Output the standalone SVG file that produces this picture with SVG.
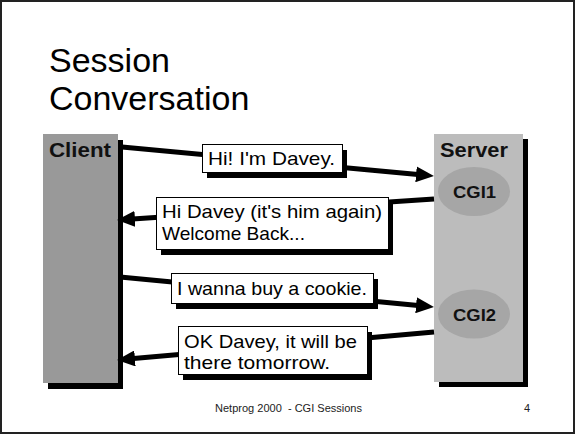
<svg xmlns="http://www.w3.org/2000/svg" width="576" height="436" viewBox="0 0 576 436">
  <defs>
    <marker id="ah" viewBox="0 0 18 16" refX="10" refY="8" markerWidth="18" markerHeight="16" markerUnits="userSpaceOnUse" orient="auto">
      <path d="M0,0 L18,8 L0,16 z" fill="#000"/>
    </marker>
    <style>
      .title { font-family: "Liberation Sans", Arial, sans-serif; font-size: 34px; fill: #000; }
      .lbl { font-family: "Liberation Sans", Arial, sans-serif; font-weight: bold; fill: #111; }
      .msg { font-family: "Liberation Sans", Arial, sans-serif; font-size: 19px; fill: #000; }
      .foot { font-family: "Liberation Sans", Arial, sans-serif; font-size: 11px; fill: #222; white-space: pre; }
      .box { fill: #fff; stroke: #000; stroke-width: 1; }
      .shadow { fill: #000; }
      .conn { stroke: #000; stroke-width: 5; fill: none; marker-end: url(#ah); }
    </style>
  </defs>

  <rect x="1" y="1" width="573" height="432" fill="#fff" stroke="#222" stroke-width="2"/>

  <text class="title" x="49" y="72">Session</text>
  <text class="title" x="49" y="110">Conversation</text>

  <g id="client">
    <rect class="shadow" x="48" y="140" width="75" height="249"/>
    <rect x="43" y="134" width="75" height="249" fill="#999"/>
    <text class="lbl" x="49" y="157" font-size="20" textLength="62" lengthAdjust="spacingAndGlyphs">Client</text>
  </g>

  <g id="server">
    <rect class="shadow" x="439" y="139" width="89" height="248"/>
    <rect x="434" y="134" width="89" height="248" fill="#bcbcbc"/>
    <text class="lbl" x="440" y="157" font-size="20" textLength="68" lengthAdjust="spacingAndGlyphs">Server</text>
  </g>

  <g id="cgi1">
    <ellipse cx="474" cy="191.5" rx="36" ry="24.5" fill="#a6a6a6"/>
    <text class="lbl" x="474.5" y="198" font-size="16" text-anchor="middle" textLength="43" lengthAdjust="spacingAndGlyphs">CGI1</text>
  </g>

  <g id="cgi2">
    <ellipse cx="474" cy="314" rx="36" ry="24.5" fill="#a6a6a6"/>
    <text class="lbl" x="474.5" y="321" font-size="16" text-anchor="middle" textLength="43" lengthAdjust="spacingAndGlyphs">CGI2</text>
  </g>

  <g id="connectors">
    <line class="conn" x1="122" y1="147" x2="426" y2="175.3"/>
    <line class="conn" x1="434" y1="199" x2="125" y2="219.5"/>
    <line class="conn" x1="120" y1="277" x2="426" y2="306.2"/>
    <line class="conn" x1="434" y1="332" x2="125" y2="359.3"/>
  </g>

  <g id="msg1">
    <rect class="shadow" x="207" y="150" width="140" height="28"/>
    <rect class="box" x="202.5" y="144.5" width="140" height="28"/>
    <text class="msg" x="208" y="165" textLength="127" lengthAdjust="spacingAndGlyphs">Hi! I'm Davey.</text>
  </g>

  <g id="msg2">
    <rect class="shadow" x="161" y="203" width="232" height="52"/>
    <rect class="box" x="156.5" y="197.5" width="232" height="52"/>
    <text class="msg" x="162" y="218" textLength="220" lengthAdjust="spacingAndGlyphs">Hi Davey (it's him again)</text>
    <text class="msg" x="162" y="240" textLength="143" lengthAdjust="spacingAndGlyphs">Welcome Back...</text>
  </g>

  <g id="msg3">
    <rect class="shadow" x="176" y="279" width="202" height="30"/>
    <rect class="box" x="171.5" y="273.5" width="202" height="30"/>
    <text class="msg" x="177" y="295" textLength="190" lengthAdjust="spacingAndGlyphs">I wanna buy a cookie.</text>
  </g>

  <g id="msg4">
    <rect class="shadow" x="183" y="332" width="189" height="48"/>
    <rect class="box" x="178.5" y="326.5" width="189" height="48"/>
    <text class="msg" x="184" y="348" textLength="173" lengthAdjust="spacingAndGlyphs">OK Davey, it will be</text>
    <text class="msg" x="184" y="369" textLength="146" lengthAdjust="spacingAndGlyphs">there tomorrow.</text>
  </g>

  <text class="foot" x="215" y="412" textLength="147" lengthAdjust="spacingAndGlyphs">Netprog 2000  - CGI Sessions</text>
  <text class="foot" x="524" y="412">4</text>
</svg>
